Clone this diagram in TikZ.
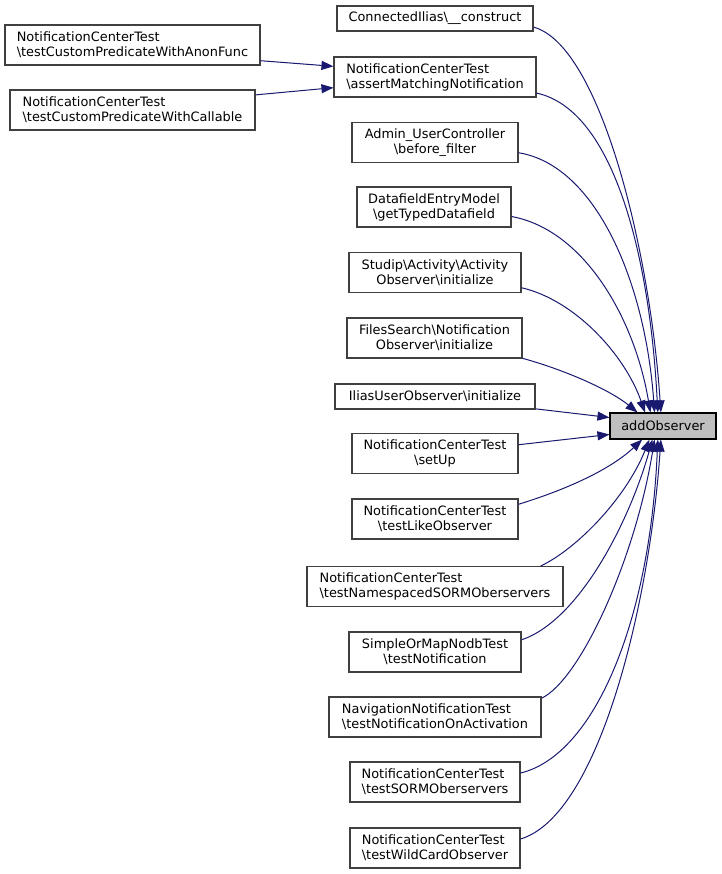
\documentclass[tikz,border=0pt]{standalone}
\usepackage{fontspec}
\newfontfamily\graphfont{DejaVu Sans}
\usepackage{tikz}
\usetikzlibrary{arrows.meta}
\definecolor{edgeblue}{HTML}{191970}
\definecolor{boxedge}{HTML}{404040}
\definecolor{curfill}{HTML}{BFBFBF}

\begin{document}
\begin{tikzpicture}[x=1pt,y=-1pt,
  fn/.style={draw=boxedge,fill=white,line width=1.1pt,align=center,inner sep=0pt,
    font=\graphfont\fontsize{12.9}{15}\selectfont},
  one/.style={fn,minimum height=25pt},
  two/.style={fn,minimum height=40pt},
  cur/.style={fn,fill=curfill,draw=black,minimum height=26pt},
  ar/.style={-{Triangle[length=12pt,width=9pt]},edgeblue,line width=1pt}]
\useasboundingbox (0,0) rectangle (721,874);
\node[two,align=left,minimum width=255pt] (tca) at (132.5,45) {NotificationCenterTest\\\textbackslash testCustomPredicateWithAnonFunc};
\node[two,align=left,minimum width=245pt] (tcc) at (132.5,110) {NotificationCenterTest\\\textbackslash testCustomPredicateWithCallable};
\node[one,minimum width=196pt] (cci) at (435,18.5) {ConnectedIlias\textbackslash\_\_construct};
\node[two,align=left,minimum width=202pt] (amn) at (435,77) {NotificationCenterTest\\\textbackslash assertMatchingNotification};
\node[two,minimum width=166pt] (auc) at (435,142.5) {Admin\_UserController\\\textbackslash before\_filter};
\node[two,minimum width=154pt] (dem) at (434,207) {DatafieldEntryModel\\\textbackslash getTypedDatafield};
\node[two,minimum width=172pt] (sai) at (435,272.5) {Studip\textbackslash Activity\textbackslash Activity\\Observer\textbackslash initialize};
\node[two,minimum width=175pt] (fno) at (434.5,338) {FilesSearch\textbackslash Notification\\Observer\textbackslash initialize};
\node[one,minimum width=200pt] (iuo) at (435,396.5) {IliasUserObserver\textbackslash initialize};
\node[two,minimum width=166pt] (sup) at (435,453.5) {NotificationCenterTest\\\textbackslash setUp};
\node[two,minimum width=166pt] (tlo) at (435,519) {NotificationCenterTest\\\textbackslash testLikeObserver};
\node[two,align=left,minimum width=256pt] (tns) at (435,586.5) {NotificationCenterTest\\\textbackslash testNamespacedSORMOberservers};
\node[two,minimum width=172pt] (snt) at (435,652) {SimpleOrMapNodbTest\\\textbackslash testNotification};
\node[two,align=left,minimum width=212pt] (nna) at (435,717) {NavigationNotificationTest\\\textbackslash testNotificationOnActivation};
\node[two,align=left,minimum width=170pt] (tso) at (435,782) {NotificationCenterTest\\\textbackslash testSORMOberservers};
\node[two,align=left,minimum width=170pt] (twc) at (435,848) {NotificationCenterTest\\\textbackslash testWildCardObserver};
\node[cur,minimum width=106pt] (add) at (663,426) {addObserver};
\draw[ar] (tca.-7) -- (amn.174);
\draw[ar] (tcc.7) -- (amn.186);
\draw[ar] (cci.-5) .. controls (600,45) and (650,250) .. (add.99);
\draw[ar] (amn.-9) .. controls (615,110) and (650,260) .. (add.111);
\draw[ar] (auc.-7) .. controls (595,165) and (645,280) .. (add.122);
\draw[ar] (dem.-7) .. controls (585,230) and (635,320) .. (add.133);
\draw[ar] (sai.-10) .. controls (575,300) and (625,355) .. (add.143);
\draw[ar] (fno.-13) .. controls (565,370) and (610,390) .. (add.152);
\draw[ar] (iuo.-7) -- (add.171);
\draw[ar] (sup.6) -- (add.189);
\draw[ar] (tlo.10) .. controls (565,490) and (610,470) .. (add.213);
\draw[ar] (tns.11) .. controls (575,550) and (625,500) .. (add.225);
\draw[ar] (snt.8) .. controls (580,620) and (630,520) .. (add.232);
\draw[ar] (nna.10) .. controls (580,680) and (635,560) .. (add.238);
\draw[ar] (tso.6) .. controls (595,755) and (650,620) .. (add.249);
\draw[ar] (twc.6) .. controls (600,815) and (650,600) .. (add.261);
\end{tikzpicture}
\end{document}
